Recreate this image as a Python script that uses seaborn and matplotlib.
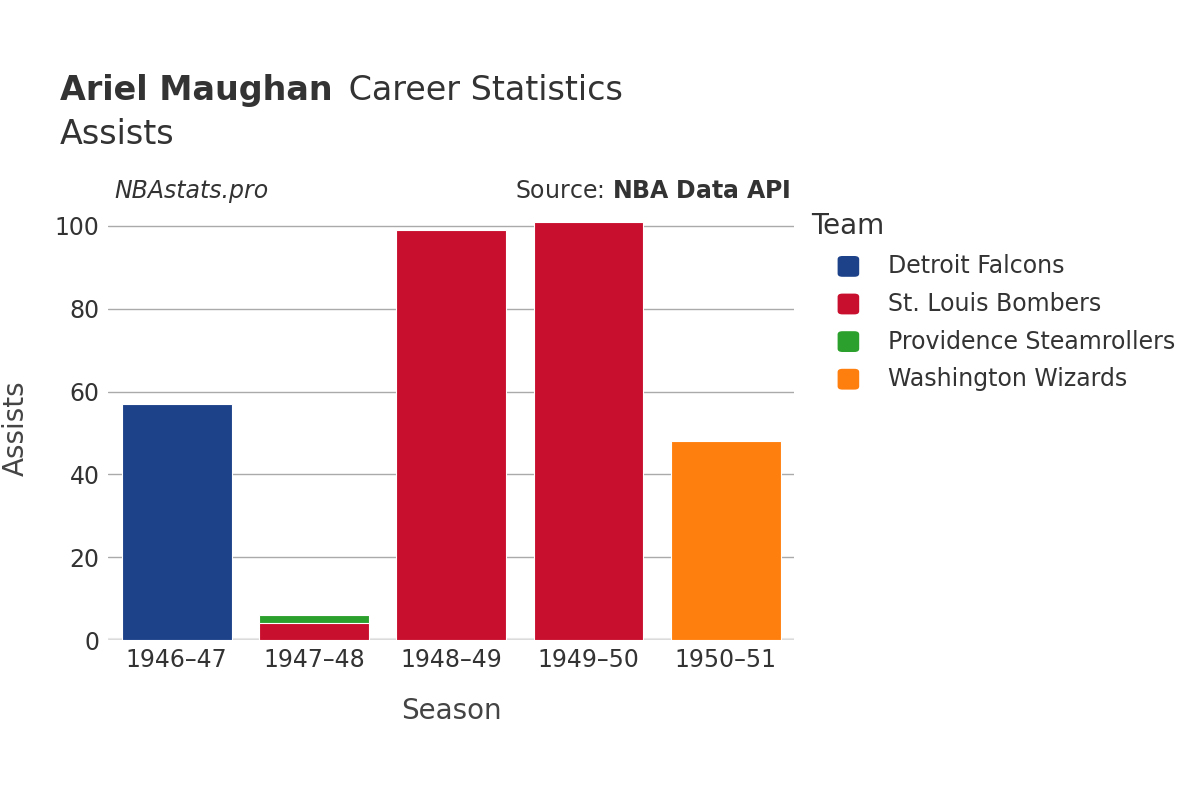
import matplotlib
matplotlib.use("Agg")
import matplotlib.pyplot as plt
import seaborn as sns
import pandas as pd
from matplotlib.patches import FancyBboxPatch

seasons = ["1946–47", "1947–48", "1948–49", "1949–50", "1950–51"]
teams = ["Detroit Falcons", "St. Louis Bombers", "Providence Steamrollers", "Washington Wizards"]
colors = ["#1d428a", "#c8102e", "#2ca02c", "#ff7f0e"]
row_season = ["1946–47", "1947–48", "1947–48", "1948–49", "1949–50", "1950–51"]
row_team = ["Detroit Falcons", "St. Louis Bombers", "Providence Steamrollers", "St. Louis Bombers", "St. Louis Bombers", "Washington Wizards"]
row_assists = [57, 4, 2, 99, 101, 48]

df = pd.DataFrame({"Season": row_season, "Team": row_team, "Assists": row_assists})
df["Bottom"] = df.groupby("Season")["Assists"].cumsum() - df["Assists"]
df["Top"] = df["Bottom"] + df["Assists"]

sns.set_theme(style="white")
fig = plt.figure(figsize=(12, 8), dpi=100)
ax = fig.add_axes([0.09, 0.2, 0.572, 0.53])
palette = dict(zip(teams, colors))

for i in range(len(df) - 1, -1, -1):
    r = df.iloc[i]
    sub = pd.DataFrame({"Season": [r.Season], "Top": [r.Top]})
    sns.barplot(data=sub, x="Season", y="Top", order=seasons, color=palette[r.Team],
                width=0.8, ax=ax, saturation=1, linewidth=0.8, edgecolor="white")
ax.set_xlim(-0.5, 4.5)
ax.set_ylim(0, 102.4)
ax.set_yticks([0, 20, 40, 60, 80, 100])
ax.yaxis.grid(True, color="#aaaaaa", linewidth=1)
ax.set_axisbelow(True)
for s in ax.spines.values():
    s.set_visible(False)
ax.axhline(0, color="#e8e8e8", linewidth=3, zorder=0)
ax.tick_params(axis="both", labelsize=17, colors="#333333", length=0, pad=6)
ax.set_xlabel("Season", fontsize=20, color="#444444", labelpad=18)
ax.set_ylabel("Assists", fontsize=20, color="#444444", labelpad=18)

fig.text(0.05, 0.875, "Ariel Maughan", fontsize=24, fontweight="bold", color="#333333")
fig.text(0.2815, 0.875, " Career Statistics", fontsize=24, color="#333333")
fig.text(0.05, 0.82, "Assists", fontsize=24, color="#333333")
fig.text(0.095, 0.752, "NBAstats.pro", fontsize=17, style="italic", color="#333333")
fig.text(0.659, 0.752, "Source: $\\bf{NBA\\ Data\\ API}$", fontsize=17, color="#333333", ha="right")

fig.text(0.676, 0.707, "Team", fontsize=20, color="#333333")
for k, (t, c) in enumerate(zip(teams, colors)):
    y = 0.667 - k * 0.047
    fig.patches.append(FancyBboxPatch((0.698, y - 0.013), 0.018, 0.026, boxstyle="round,pad=0,rounding_size=0.004",
                                      transform=fig.transFigure, facecolor=c, edgecolor="none"))
    fig.text(0.74, y, t, fontsize=17, color="#333333", va="center")

fig.savefig("out.png", dpi=100)
